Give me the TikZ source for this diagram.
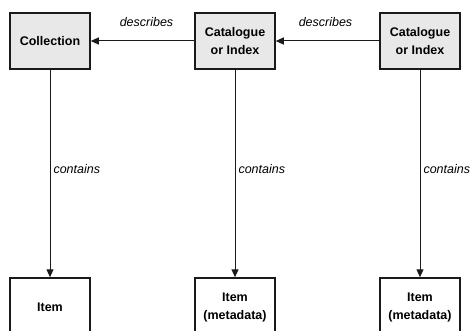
\documentclass[tikz,border=0pt]{standalone}
\usepackage{fontspec}
\setmainfont{Liberation Sans}
\usetikzlibrary{arrows.meta}
\definecolor{boxfill}{HTML}{E8E8E8}
\definecolor{edge}{HTML}{1A1A1A}
\tikzset{
  topbox/.style={draw=edge, line width=1.5pt, fill=boxfill, minimum width=80pt, minimum height=56pt, inner sep=0pt, align=center, font=\fontsize{12.5}{18}\selectfont\bfseries},
  botbox/.style={draw=edge, line width=1.5pt, fill=white, minimum width=80pt, minimum height=58pt, inner sep=0pt, align=center, font=\fontsize{12.5}{18}\selectfont\bfseries},
  conn/.style={draw=edge, line width=1pt, -{Triangle[length=8pt,width=7pt]}},
  lbl/.style={font=\fontsize{12.5}{15}\selectfont\itshape, inner sep=0pt}
}
\begin{document}
\begin{tikzpicture}[x=1pt,y=-1pt]
\useasboundingbox (0,0) rectangle (473,331);
\clip (0,0) rectangle (473,331);
\node[topbox] (c1) at (50,41) {Collection};
\node[topbox] (c2) at (235,41) {Catalogue\\or Index};
\node[topbox] (c3) at (420,41) {Catalogue\\or Index};
\node[botbox] (i1) at (50,307) {Item};
\node[botbox] (i2) at (235,307) {Item\\(metadata)};
\node[botbox] (i3) at (420,307) {Item\\(metadata)};
\draw[conn] (c2.west) -- node[lbl, midway, xshift=4pt, yshift=19pt] {describes} (c1.east);
\draw[conn] (c3.west) -- node[lbl, midway, xshift=-2pt, yshift=19pt] {describes} (c2.east);
\draw[conn] (c1.south) -- node[lbl, midway, right, xshift=3pt, yshift=4pt] {contains} (i1.north);
\draw[conn] (c2.south) -- node[lbl, midway, right, xshift=3pt, yshift=4pt] {contains} (i2.north);
\draw[conn] (c3.south) -- node[lbl, midway, right, xshift=3pt, yshift=4pt] {contains} (i3.north);
\end{tikzpicture}
\end{document}
